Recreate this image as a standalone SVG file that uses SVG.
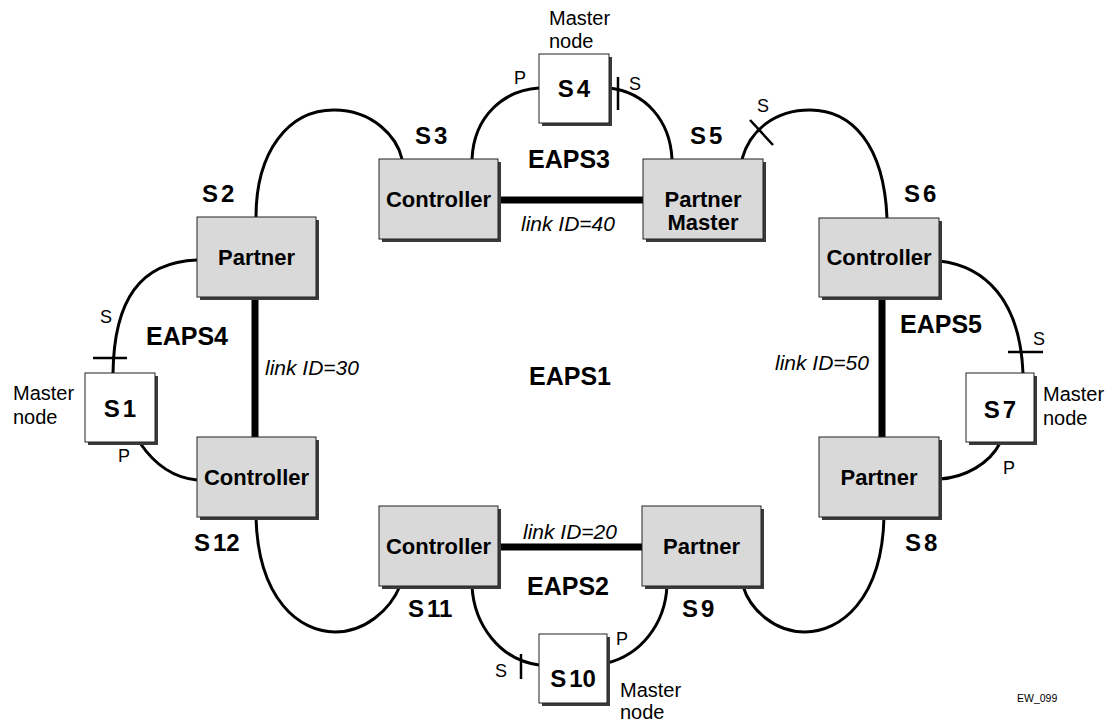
<svg xmlns="http://www.w3.org/2000/svg" width="1118" height="721" viewBox="0 0 1118 721">
<style>
.sh{fill:#3a3a3a}
.g{fill:#d9d9d9;stroke:#222;stroke-width:1}
.w{fill:#fff;stroke:#222;stroke-width:1}
.c{fill:none;stroke:#000;stroke-width:3}
.k{fill:none;stroke:#000;stroke-width:7}
.t{fill:none;stroke:#000;stroke-width:2.5}
text{font-family:"Liberation Sans",Arial,Helvetica,sans-serif;fill:#000}
.b{font-weight:bold;font-size:22px;text-anchor:middle}
.sl{font-weight:bold;font-size:24px}
.mid{text-anchor:middle}
.e{font-weight:bold;font-size:25px}
.i{font-style:italic;font-size:21px}
.p{font-size:18px}
.m{font-size:20px}
.ew{font-size:10.5px}
</style>
<rect width="1118" height="721" fill="#fff"/>
<g id="connectors">
<path class="k" d="M498,200 H643"/>
<path class="k" d="M255,297 V437"/>
<path class="k" d="M882,297 V437"/>
<path class="k" d="M498,547 H642"/>
<path class="c" d="M256,217 C256,152 288,110 334,110 C373,110 397,137 402,159"/>
<path class="c" d="M472,159 C474,115 505,90 539,88"/>
<path class="c" d="M609,88 C645,92 670,120 672,159"/>
<path class="c" d="M742,159 C750,130 775,110 810,110 C852,110 884,145 887,218"/>
<path class="c" d="M939,261 C985,266 1020,300 1023,373"/>
<path class="c" d="M1000,443 C990,463 965,478 939,479"/>
<path class="c" d="M884,517 C882,600 840,632 805,632 C775,632 750,610 743,586"/>
<path class="c" d="M667,586 C665,625 640,655 607,663"/>
<path class="c" d="M472,586 C474,625 500,660 539,665"/>
<path class="c" d="M400,586 C390,610 365,632 335,632 C300,632 258,600 256,517"/>
<path class="c" d="M140,443 C155,465 175,478 197,480"/>
<path class="c" d="M197,260 C140,262 114,300 113,373"/>
<path class="t" d="M618,77 V110"/>
<path class="t" d="M750,120 L773,145"/>
<path class="t" d="M1008,352 H1043"/>
<path class="t" d="M521,654 V679"/>
<path class="t" d="M93,358 H127"/>
</g>
<g id="ports">
<text class="p" x="514" y="84">P</text>
<text class="p" x="629" y="90">S</text>
<text class="p" x="757" y="112">S</text>
<text class="p" x="1033" y="345">S</text>
<text class="p" x="1003" y="474">P</text>
<text class="p" x="616" y="645">P</text>
<text class="p" x="495" y="677">S</text>
<text class="p" x="100" y="323">S</text>
<text class="p" x="118" y="462">P</text>
</g>
<g id="rings">
<text class="e" x="529" y="385">EAPS1</text>
<text class="e" x="527" y="595">EAPS2</text>
<text class="e" x="528" y="168">EAPS3</text>
<text class="e" x="146" y="345">EAPS4</text>
<text class="e" x="900" y="333">EAPS5</text>
<text class="i" x="521" y="231">link ID=40</text>
<text class="i" x="265" y="375">link ID=30</text>
<text class="i" x="775" y="370">link ID=50</text>
<text class="i" x="523" y="539">link ID=20</text>
</g>
<g id="S1">
<rect class="sh" x="88" y="376" width="70" height="69"/>
<rect class="w" x="85" y="373" width="70" height="69"/>
<text class="sl mid" x="120" y="417">S<tspan dx="3">1</tspan></text>
<text class="m" x="13" y="400">Master</text>
<text class="m" x="13" y="424">node</text>
</g>
<g id="S2">
<rect class="sh" x="200" y="220" width="119" height="80"/>
<rect class="g" x="197" y="217" width="119" height="80"/>
<text class="b" x="256.5" y="265">Partner</text>
<text class="sl" x="202" y="202">S<tspan dx="3">2</tspan></text>
</g>
<g id="S3">
<rect class="sh" x="382" y="162" width="119" height="80"/>
<rect class="g" x="379" y="159" width="119" height="80"/>
<text class="b" x="438.5" y="207">Controller</text>
<text class="sl" x="415" y="144">S<tspan dx="3">3</tspan></text>
</g>
<g id="S4">
<rect class="sh" x="542" y="57" width="70" height="69"/>
<rect class="w" x="539" y="54" width="70" height="69"/>
<text class="sl mid" x="574" y="97">S<tspan dx="3">4</tspan></text>
<text class="m" x="549" y="25">Master</text>
<text class="m" x="549" y="48">node</text>
</g>
<g id="S5">
<rect class="sh" x="646" y="162" width="120" height="80"/>
<rect class="g" x="643" y="159" width="120" height="80"/>
<text class="b" x="703" y="207">Partner</text>
<text class="b" x="703" y="230">Master</text>
<text class="sl" x="690" y="144">S<tspan dx="3">5</tspan></text>
</g>
<g id="S6">
<rect class="sh" x="822" y="221" width="120" height="79"/>
<rect class="g" x="819" y="218" width="120" height="79"/>
<text class="b" x="879" y="265">Controller</text>
<text class="sl" x="904" y="202">S<tspan dx="3">6</tspan></text>
</g>
<g id="S7">
<rect class="sh" x="969" y="376" width="68" height="69"/>
<rect class="w" x="966" y="373" width="68" height="69"/>
<text class="sl mid" x="1000" y="418">S<tspan dx="3">7</tspan></text>
<text class="m" x="1043" y="401">Master</text>
<text class="m" x="1043" y="425">node</text>
</g>
<g id="S8">
<rect class="sh" x="822" y="440" width="120" height="80"/>
<rect class="g" x="819" y="437" width="120" height="80"/>
<text class="b" x="879" y="485">Partner</text>
<text class="sl" x="905" y="551">S<tspan dx="3">8</tspan></text>
</g>
<g id="S9">
<rect class="sh" x="645" y="509" width="119" height="80"/>
<rect class="g" x="642" y="506" width="119" height="80"/>
<text class="b" x="701.5" y="554">Partner</text>
<text class="sl" x="682" y="617">S<tspan dx="3">9</tspan></text>
</g>
<g id="S10">
<rect class="sh" x="542" y="637" width="68" height="69"/>
<rect class="w" x="539" y="634" width="68" height="69"/>
<text class="sl mid" x="573" y="687">S<tspan dx="3">10</tspan></text>
<text class="m" x="620" y="697">Master</text>
<text class="m" x="620" y="719">node</text>
</g>
<g id="S11">
<rect class="sh" x="382" y="509" width="119" height="80"/>
<rect class="g" x="379" y="506" width="119" height="80"/>
<text class="b" x="438.5" y="554">Controller</text>
<text class="sl" x="408" y="617">S<tspan dx="3">11</tspan></text>
</g>
<g id="S12">
<rect class="sh" x="200" y="440" width="119" height="80"/>
<rect class="g" x="197" y="437" width="119" height="80"/>
<text class="b" x="256.5" y="485">Controller</text>
<text class="sl" x="194" y="551">S<tspan dx="3">12</tspan></text>
</g>
<text class="ew" x="1017" y="702">EW_099</text>
</svg>
